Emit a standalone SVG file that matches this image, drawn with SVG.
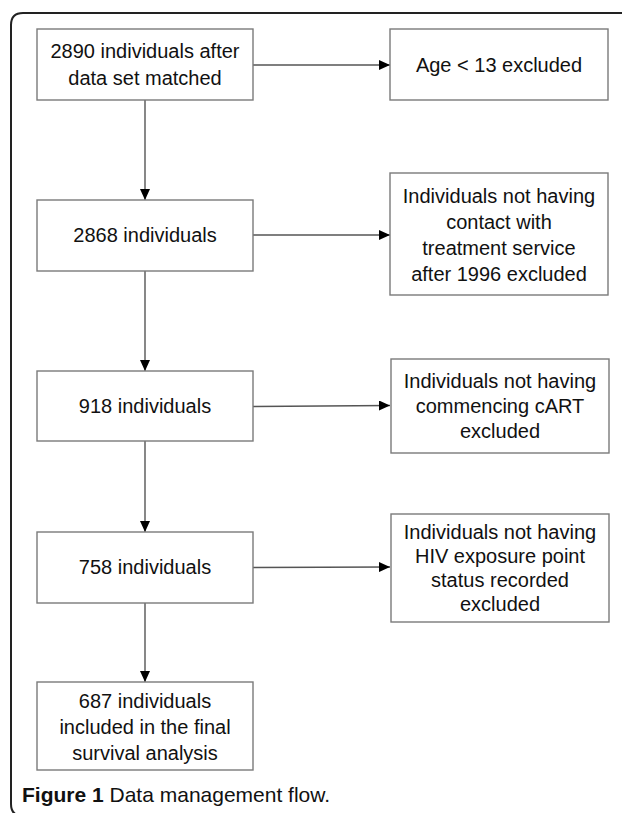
<svg xmlns="http://www.w3.org/2000/svg" width="622" height="813" viewBox="0 0 622 813">
<style>
.box{fill:#fff;stroke:#7a7a7a;stroke-width:1.4}
.t{font-family:"Liberation Sans",Arial,sans-serif;font-size:20px;fill:#111;text-anchor:middle}
.c{stroke:#555;stroke-width:1.4;fill:none;marker-end:url(#ah)}
.cap{font-family:"Liberation Sans",Arial,sans-serif;font-size:21px;fill:#111}
</style>
<defs>
<marker id="ah" markerUnits="userSpaceOnUse" markerWidth="12" markerHeight="10" refX="11" refY="5" orient="auto">
<path d="M0,0 L11,5 L0,10 Z" fill="#000"/>
</marker>
</defs>
<rect width="622" height="813" fill="#fff"/>
<path d="M23,816 Q11,816 11,804 L11,25 Q11,13 23,13 L622,13" fill="none" stroke="#222" stroke-width="2"/>
<g id="connectors">
<line class="c" x1="253" y1="65" x2="390" y2="65"/>
<line class="c" x1="145" y1="100" x2="145" y2="200"/>
<line class="c" x1="253" y1="235" x2="390" y2="235"/>
<line class="c" x1="145" y1="271" x2="145" y2="371"/>
<line class="c" x1="253" y1="406.5" x2="390" y2="405.5"/>
<line class="c" x1="145" y1="441" x2="145" y2="532"/>
<line class="c" x1="253" y1="567.5" x2="390" y2="567"/>
<line class="c" x1="145" y1="603" x2="145" y2="682"/>
</g>
<g id="n1"><rect class="box" x="37" y="29" width="216" height="71"/>
<text class="t" x="145" y="58">2890 individuals after</text><text class="t" x="145" y="85">data set matched</text></g>
<g id="r1"><rect class="box" x="390" y="29" width="218" height="71"/>
<text class="t" x="499" y="72">Age &lt; 13 excluded</text></g>
<g id="n2"><rect class="box" x="37" y="200" width="216" height="71"/>
<text class="t" x="145" y="242">2868 individuals</text></g>
<g id="r2"><rect class="box" x="390" y="173" width="218" height="122"/>
<text class="t" x="499" y="203">Individuals not having</text>
<text class="t" x="499" y="229">contact with</text>
<text class="t" x="499" y="255">treatment service</text>
<text class="t" x="499" y="281">after 1996 excluded</text></g>
<g id="n3"><rect class="box" x="37" y="371" width="216" height="70"/>
<text class="t" x="145" y="413">918 individuals</text></g>
<g id="r3"><rect class="box" x="391" y="359" width="218" height="94"/>
<text class="t" x="500" y="388">Individuals not having</text>
<text class="t" x="500" y="413">commencing cART</text>
<text class="t" x="500" y="438">excluded</text></g>
<g id="n4"><rect class="box" x="37" y="532" width="216" height="71"/>
<text class="t" x="145" y="574">758 individuals</text></g>
<g id="r4"><rect class="box" x="391" y="514" width="218" height="108"/>
<text class="t" x="500" y="539">Individuals not having</text>
<text class="t" x="500" y="563">HIV exposure point</text>
<text class="t" x="500" y="587">status recorded</text>
<text class="t" x="500" y="611">excluded</text></g>
<g id="n5"><rect class="box" x="37" y="682" width="216" height="88"/>
<text class="t" x="145" y="708">687 individuals</text>
<text class="t" x="145" y="734">included in the final</text>
<text class="t" x="145" y="760">survival analysis</text></g>
<text class="cap" x="22" y="802"><tspan font-weight="bold">Figure 1</tspan> Data management flow.</text>
</svg>
